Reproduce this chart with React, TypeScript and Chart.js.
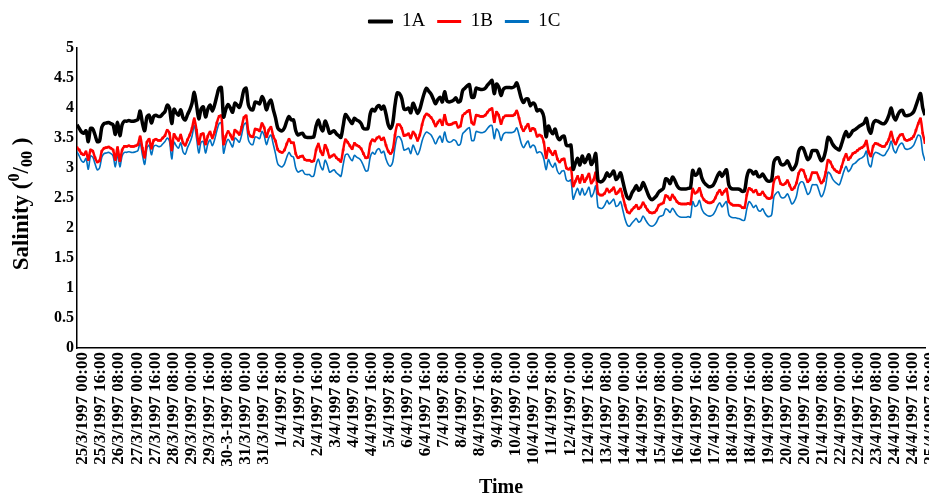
import React, { useEffect, useRef } from "react";
import { Chart, registerables } from "chart.js";

Chart.register(...registerables);

const FONT = '"Liberation Serif", "Times New Roman", serif';

const seriesNames = ["1A", "1B", "1C"];

// one tick label every 16 hours
const tickLabels = [
  "25/3/1997 00:00", "25/3/1997 16:00", "26/3/1997 08:00", "27/3/1997 00:00",
  "27/3/1997 16:00", "28/3/1997 08:00", "29/3/1997 00:00", "29/3/1997 16:00",
  "30-3-1997 08:00", "31/3/1997 00:00", "31/3/1997 16:00", "1/4/1997 8:00",
  "2/4/1997 0:00", "2/4/1997 16:00", "3/4/1997 8:00", "4/4/1997 0:00",
  "4/4/1997 16:00", "5/4/1997 8:00", "6/4/1997 0:00", "6/4/1997 16:00",
  "7/4/1997 8:00", "8/4/1997 0:00", "8/4/1997 16:00", "9/4/1997 8:00",
  "10/4/1997 0:00", "10/4/1997 16:00", "11/4/1997 8:00", "12/4/1997 0:00",
  "12/4/1997 16:00", "13/4/1997 08:00", "14/4/1997 00:00", "14/4/1997 16:00",
  "15/4/1997 08:00", "16/4/1997 00:00", "16/4/1997 16:00", "17/4/1997 08:00",
  "18/4/1997 00:00", "18/4/1997 16:00", "19/4/1997 08:00", "20/4/1997 00:00",
  "20/4/1997 16:00", "21/4/1997 08:00", "22/4/1997 00:00", "22/4/1997 16:00",
  "23/4/1997 08:00", "24/4/1997 00:00", "24/4/1997 16:00", "25/4/1997 08:00",
];
const HOURS_PER_TICK = 16;
const HOURS_PER_STEP = 2;

// salinity readings, one every 2 hours from 25/3/1997 00:00
const salinity1A = [
  3.72, 3.66, 3.60, 3.58, 3.62, 3.44, 3.66, 3.65,
  3.55, 3.44, 3.45, 3.68, 3.74, 3.75, 3.76, 3.74,
  3.72, 3.56, 3.76, 3.54, 3.72, 3.78, 3.78, 3.79,
  3.78, 3.78, 3.79, 3.81, 3.95, 3.75, 3.62, 3.85,
  3.88, 3.75, 3.86, 3.88, 3.86, 3.86, 3.90, 3.94,
  4.05, 4.00, 3.74, 3.98, 3.92, 3.88, 3.97, 3.84,
  3.80, 3.89, 3.97, 4.08, 4.26, 4.05, 3.82, 3.98,
  4.02, 3.85, 3.98, 4.05, 3.95, 4.05, 4.20, 4.33,
  4.34, 3.85, 3.98, 4.06, 4.00, 3.93, 4.08, 4.05,
  4.01, 4.13, 4.30, 4.33, 4.05, 3.98, 3.97, 4.10,
  4.09, 4.07, 4.19, 4.12, 3.97, 4.08, 4.13, 3.98,
  3.84, 3.67, 3.63, 3.62, 3.67, 3.78, 3.86, 3.80,
  3.80, 3.62, 3.55, 3.57, 3.58, 3.52, 3.51, 3.51,
  3.51, 3.52, 3.70, 3.80, 3.68, 3.62, 3.78, 3.70,
  3.58, 3.60, 3.62, 3.57, 3.54, 3.51, 3.70, 3.89,
  3.85, 3.79, 3.74, 3.83, 3.80, 3.78, 3.74, 3.66,
  3.65, 3.66, 3.90, 3.98, 3.95, 4.02, 4.04, 3.98,
  4.03, 3.90, 3.72, 3.66, 3.75, 4.05, 4.25, 4.24,
  4.16, 3.98, 3.98, 4.00, 3.92, 4.08, 4.00, 3.91,
  3.98, 4.12, 4.25, 4.33, 4.28, 4.23, 4.15, 4.07,
  4.14, 4.18, 4.10, 4.27, 4.12, 4.10, 4.11, 4.13,
  4.17, 4.10, 4.12, 4.29, 4.33, 4.37, 4.39, 4.18,
  4.18, 4.33, 4.32, 4.31, 4.31, 4.33, 4.38, 4.42,
  4.46, 4.24, 4.40, 4.35, 4.21, 4.31, 4.34, 4.34,
  4.34, 4.34, 4.36, 4.42, 4.30, 4.16, 4.09, 4.15,
  4.15, 4.04, 4.08, 4.06, 3.95, 3.97, 3.95, 3.85,
  3.52, 3.70, 3.62, 3.57, 3.65, 3.52, 3.47, 3.52,
  3.53, 3.38, 3.37, 3.38, 2.98, 3.08, 3.16, 3.05,
  3.20, 3.09, 3.15, 3.22, 3.06, 3.12, 3.24, 2.80,
  2.77, 2.78, 2.83, 2.92, 2.86, 2.90, 2.95, 2.81,
  2.85, 2.92, 2.78, 2.62, 2.51, 2.49, 2.58, 2.64,
  2.71, 2.63, 2.66, 2.76, 2.68, 2.58, 2.50, 2.47,
  2.50, 2.54, 2.60, 2.63, 2.66, 2.82, 2.80, 2.74,
  2.85, 2.80, 2.71, 2.66, 2.65, 2.65, 2.65, 2.66,
  2.67, 2.96, 2.88, 2.90, 2.98, 2.84, 2.76, 2.72,
  2.69, 2.69, 2.71, 2.78, 2.87, 2.93, 2.86, 2.92,
  2.97, 2.72, 2.66, 2.65, 2.65, 2.65, 2.64, 2.61,
  2.62, 2.85, 2.96, 2.95, 2.90, 2.94, 2.86, 2.86,
  2.90, 2.84, 2.79, 2.78, 2.80, 3.10, 3.16, 3.17,
  3.07, 3.05, 3.07, 3.12, 3.04, 2.97, 3.00, 3.08,
  3.28, 3.34, 3.33, 3.23, 3.14, 3.18, 3.29, 3.29,
  3.29, 3.20, 3.12, 3.16, 3.30, 3.51, 3.48, 3.40,
  3.35, 3.32, 3.30, 3.40, 3.52, 3.61, 3.52, 3.56,
  3.62, 3.64, 3.67, 3.70, 3.72, 3.75, 3.83, 3.65,
  3.58, 3.74, 3.79, 3.78, 3.76, 3.74, 3.74, 3.79,
  3.88, 4.00, 3.86, 3.80, 3.89, 3.95, 3.96, 3.88,
  3.87, 3.88, 3.90, 3.94, 4.04, 4.15, 4.24, 4.00,
  3.88,
];

const salinity1B = [
  3.34, 3.30, 3.24, 3.22, 3.27, 3.14, 3.30, 3.28,
  3.17, 3.10, 3.12, 3.28, 3.33, 3.34, 3.35, 3.33,
  3.30, 3.14, 3.34, 3.12, 3.30, 3.36, 3.36, 3.37,
  3.36, 3.36, 3.37, 3.39, 3.52, 3.33, 3.18, 3.43,
  3.48, 3.33, 3.46, 3.48, 3.46, 3.46, 3.50, 3.54,
  3.63, 3.58, 3.30, 3.56, 3.50, 3.46, 3.55, 3.42,
  3.38, 3.47, 3.55, 3.66, 3.82, 3.63, 3.40, 3.56,
  3.57, 3.40, 3.53, 3.60, 3.50, 3.60, 3.75, 3.86,
  3.87, 3.40, 3.53, 3.61, 3.55, 3.48, 3.63, 3.60,
  3.56, 3.68, 3.84, 3.87, 3.60, 3.53, 3.52, 3.65,
  3.64, 3.62, 3.74, 3.67, 3.52, 3.63, 3.68, 3.53,
  3.45, 3.31, 3.27, 3.26, 3.30, 3.40, 3.48, 3.42,
  3.42, 3.24, 3.17, 3.19, 3.20, 3.14, 3.13, 3.13,
  3.11, 3.12, 3.30, 3.40, 3.28, 3.22, 3.38, 3.30,
  3.18, 3.20, 3.22, 3.17, 3.14, 3.11, 3.30, 3.47,
  3.43, 3.37, 3.32, 3.41, 3.38, 3.36, 3.32, 3.24,
  3.17, 3.18, 3.40, 3.47, 3.45, 3.50, 3.52, 3.47,
  3.50, 3.38, 3.28, 3.24, 3.30, 3.55, 3.72, 3.72,
  3.66, 3.54, 3.55, 3.57, 3.50, 3.60, 3.55, 3.46,
  3.55, 3.72, 3.85, 3.90, 3.88, 3.84, 3.78, 3.70,
  3.76, 3.80, 3.72, 3.88, 3.74, 3.72, 3.73, 3.75,
  3.76, 3.68, 3.70, 3.87, 3.91, 3.94, 3.96, 3.76,
  3.73, 3.88, 3.87, 3.86, 3.86, 3.88, 3.93, 3.97,
  3.99, 3.77, 3.93, 3.88, 3.74, 3.84, 3.87, 3.87,
  3.87, 3.87, 3.89, 3.95, 3.83, 3.69, 3.62, 3.68,
  3.73, 3.62, 3.66, 3.64, 3.53, 3.55, 3.53, 3.43,
  3.17, 3.33, 3.27, 3.22, 3.28, 3.15, 3.10, 3.14,
  3.15, 3.00, 2.98, 3.00, 2.70, 2.78, 2.86, 2.76,
  2.88, 2.77, 2.83, 2.90, 2.75, 2.80, 2.92, 2.58,
  2.55, 2.55, 2.58, 2.65, 2.60, 2.63, 2.67, 2.57,
  2.60, 2.65, 2.53, 2.38, 2.27, 2.25, 2.30, 2.34,
  2.38, 2.32, 2.35, 2.42, 2.36, 2.30, 2.26, 2.25,
  2.26, 2.30, 2.38, 2.40, 2.42, 2.54, 2.52, 2.47,
  2.55, 2.50, 2.44, 2.41, 2.40, 2.40, 2.40, 2.41,
  2.40, 2.65, 2.58, 2.60, 2.66, 2.54, 2.47, 2.44,
  2.42, 2.42, 2.44, 2.50, 2.58, 2.63, 2.56, 2.61,
  2.65, 2.44, 2.40, 2.38, 2.38, 2.38, 2.37, 2.34,
  2.34, 2.55, 2.66, 2.64, 2.60, 2.63, 2.56, 2.56,
  2.60, 2.54, 2.50, 2.49, 2.51, 2.78, 2.84, 2.85,
  2.74, 2.72, 2.74, 2.79, 2.71, 2.64, 2.67, 2.75,
  2.91, 2.97, 2.96, 2.86, 2.77, 2.81, 2.92, 2.92,
  2.92, 2.83, 2.75, 2.79, 2.93, 3.13, 3.10, 3.02,
  2.97, 2.94, 2.92, 3.02, 3.14, 3.23, 3.14, 3.18,
  3.24, 3.26, 3.29, 3.32, 3.34, 3.37, 3.45, 3.27,
  3.20, 3.36, 3.41, 3.40, 3.38, 3.36, 3.36, 3.41,
  3.48, 3.60, 3.46, 3.40, 3.49, 3.55, 3.56, 3.48,
  3.46, 3.47, 3.49, 3.53, 3.63, 3.74, 3.82, 3.58,
  3.42,
];

const salinity1C = [
  3.27, 3.20, 3.12, 3.10, 3.16, 2.98, 3.20, 3.18,
  3.07, 2.97, 3.00, 3.18, 3.24, 3.25, 3.26, 3.24,
  3.20, 3.02, 3.24, 3.02, 3.20, 3.26, 3.26, 3.27,
  3.26, 3.26, 3.27, 3.29, 3.42, 3.22, 3.06, 3.33,
  3.38, 3.22, 3.36, 3.38, 3.36, 3.36, 3.40, 3.44,
  3.50, 3.45, 3.15, 3.43, 3.37, 3.33, 3.42, 3.27,
  3.23, 3.34, 3.42, 3.53, 3.71, 3.50, 3.25, 3.43,
  3.44, 3.25, 3.40, 3.47, 3.37, 3.47, 3.62, 3.74,
  3.75, 3.25, 3.40, 3.48, 3.42, 3.35, 3.50, 3.47,
  3.43, 3.55, 3.72, 3.75, 3.47, 3.40, 3.39, 3.52,
  3.51, 3.49, 3.61, 3.54, 3.39, 3.50, 3.55, 3.40,
  3.24, 3.07, 3.03, 3.02, 3.07, 3.18, 3.26, 3.20,
  3.18, 3.00, 2.93, 2.95, 2.96, 2.90, 2.89, 2.89,
  2.86, 2.87, 3.05, 3.15, 3.03, 2.97, 3.13, 3.05,
  2.93, 2.95, 2.97, 2.92, 2.89, 2.86, 3.05, 3.22,
  3.23, 3.17, 3.12, 3.21, 3.18, 3.16, 3.12, 3.04,
  2.95, 2.96, 3.18, 3.26, 3.23, 3.30, 3.32, 3.25,
  3.28, 3.15, 3.06, 3.03, 3.10, 3.35, 3.52, 3.52,
  3.45, 3.30, 3.31, 3.33, 3.24, 3.38, 3.30, 3.22,
  3.30, 3.45, 3.55, 3.60, 3.58, 3.55, 3.48, 3.40,
  3.48, 3.53, 3.43, 3.60, 3.46, 3.43, 3.44, 3.47,
  3.45, 3.38, 3.40, 3.57, 3.61, 3.65, 3.67, 3.46,
  3.46, 3.61, 3.60, 3.59, 3.59, 3.61, 3.66, 3.70,
  3.71, 3.49, 3.65, 3.60, 3.46, 3.56, 3.59, 3.59,
  3.59, 3.59, 3.61, 3.67, 3.55, 3.41, 3.34, 3.40,
  3.45, 3.34, 3.38, 3.36, 3.25, 3.27, 3.25, 3.15,
  2.97, 3.14, 3.06, 3.01, 3.08, 2.95, 2.90, 2.95,
  2.95, 2.80, 2.78, 2.80, 2.48, 2.58, 2.66, 2.55,
  2.66, 2.55, 2.60, 2.68, 2.52, 2.58, 2.70, 2.35,
  2.33, 2.33, 2.38, 2.46, 2.40, 2.44, 2.48, 2.36,
  2.38, 2.44, 2.30, 2.15, 2.05, 2.03, 2.08, 2.12,
  2.16, 2.10, 2.12, 2.20, 2.14, 2.08, 2.04, 2.03,
  2.05, 2.10, 2.18, 2.20, 2.22, 2.32, 2.30, 2.26,
  2.33, 2.28, 2.22, 2.19, 2.18, 2.18, 2.18, 2.19,
  2.18, 2.44, 2.36, 2.38, 2.46, 2.32, 2.25, 2.22,
  2.20, 2.20, 2.22, 2.28, 2.37, 2.42, 2.35, 2.40,
  2.44, 2.22, 2.18, 2.17, 2.17, 2.16, 2.15, 2.13,
  2.13, 2.32, 2.44, 2.40, 2.34, 2.38, 2.30, 2.28,
  2.32, 2.25, 2.20, 2.19, 2.22, 2.52, 2.58, 2.60,
  2.52, 2.50, 2.52, 2.57, 2.49, 2.40, 2.44, 2.53,
  2.71, 2.77, 2.76, 2.66, 2.56, 2.60, 2.72, 2.72,
  2.72, 2.62, 2.52, 2.58, 2.72, 2.93, 2.90, 2.82,
  2.77, 2.74, 2.72, 2.82, 2.94, 3.03, 2.94, 2.98,
  3.06, 3.08, 3.12, 3.15, 3.17, 3.20, 3.28, 3.07,
  3.02, 3.20, 3.26, 3.25, 3.23, 3.21, 3.21, 3.27,
  3.33, 3.45, 3.31, 3.25, 3.34, 3.40, 3.41, 3.33,
  3.31, 3.32, 3.34, 3.38, 3.47, 3.55, 3.52, 3.25,
  3.12,
];

const seriesColors = ["#000000", "#FF0000", "#0070C0"];

const toPoints = (values: number[]) =>
  values.map((v, i) => ({ x: i * HOURS_PER_STEP, y: v }));

const yTitlePlugin = {
  id: "yTitle",
  afterDraw(chart: any) {
    const ctx = chart.ctx as CanvasRenderingContext2D;
    const parts: { text: string; size: number; dy: number; w?: number }[] = [
      { text: "Salinity (", size: 23, dy: 0 },
      { text: "0", size: 16, dy: -9 },
      { text: "/", size: 23, dy: 0 },
      { text: "00", size: 16, dy: 4 },
      { text: " )", size: 23, dy: 0 },
    ];
    ctx.save();
    let total = 0;
    for (const p of parts) {
      ctx.font = `bold ${p.size}px ${FONT}`;
      p.w = ctx.measureText(p.text).width;
      total += p.w;
    }
    const area = chart.chartArea;
    const cy = (area.top + area.bottom) / 2 + 6;
    ctx.translate(28, cy);
    ctx.rotate(-Math.PI / 2);
    ctx.fillStyle = "#000";
    ctx.textBaseline = "alphabetic";
    let x = -total / 2;
    for (const p of parts) {
      ctx.font = `bold ${p.size}px ${FONT}`;
      ctx.fillText(p.text, x, p.dy);
      x += p.w || 0;
    }
    ctx.restore();
  },
};

// adds space between the legend and the plot
const legendGapPlugin = {
  id: "legendGap",
  beforeInit(chart: any) {
    const legend = chart.legend;
    if (!legend) return;
    const fit = legend.fit;
    legend.fit = function () {
      fit.call(this);
      this.height += 7;
    };
  },
};

export default function App() {
  const ref = useRef<HTMLCanvasElement | null>(null);

  useEffect(() => {
    if (!ref.current) return;
    const lastHour = (tickLabels.length - 1) * HOURS_PER_TICK;
    const chart = new Chart(ref.current, {
      type: "line",
      data: {
        datasets: [
          {
            label: seriesNames[0],
            data: toPoints(salinity1A),
            borderColor: seriesColors[0],
            backgroundColor: seriesColors[0],
            borderWidth: 3.5,
            pointRadius: 0,
            tension: 0.3,
          },
          {
            label: seriesNames[1],
            data: toPoints(salinity1B),
            borderColor: seriesColors[1],
            backgroundColor: seriesColors[1],
            borderWidth: 2.5,
            pointRadius: 1.8,
            pointStyle: "rect",
            pointBorderWidth: 0,
            pointBackgroundColor: seriesColors[1],
            tension: 0.3,
          },
          {
            label: seriesNames[2],
            data: toPoints(salinity1C),
            borderColor: seriesColors[2],
            backgroundColor: seriesColors[2],
            borderWidth: 1.6,
            pointRadius: 0,
            tension: 0.3,
          },
        ],
      },
      options: {
        responsive: false,
        animation: false,
        devicePixelRatio: 1,
        layout: { padding: { top: 0, left: 0, right: 0, bottom: 0 } },
        plugins: {
          tooltip: { enabled: false },
          legend: {
            position: "top",
            labels: {
              font: { family: FONT, size: 19 },
              color: "#000",
              boxWidth: 24,
              boxHeight: 3,
              padding: 12,
              generateLabels: (c: any) =>
                c.data.datasets.map((ds: any, i: number) => ({
                  text: ds.label,
                  fillStyle: ds.borderColor,
                  strokeStyle: ds.borderColor,
                  lineWidth: i === 0 ? 1 : 0,
                  hidden: false,
                  datasetIndex: i,
                })),
            },
          },
        },
        scales: {
          x: {
            type: "linear",
            min: 0,
            max: lastHour,
            ticks: {
              stepSize: HOURS_PER_TICK,
              autoSkip: false,
              maxRotation: 90,
              minRotation: 90,
              padding: 4,
              labelOffset: 6,
              color: "#000",
              font: { family: FONT, size: 17, weight: "bold" },
              callback: (v: any) => tickLabels[Math.round(Number(v) / HOURS_PER_TICK)] ?? "",
            },
            grid: { display: false, drawTicks: false },
            border: { display: true, color: "#000", width: 1.5 },
            title: {
              display: true,
              text: "Time",
              color: "#000",
              font: { family: FONT, size: 20, weight: "bold" },
              padding: { top: 0, bottom: -6 },
            },
            afterFit: (s: any) => {
              s.height = 146;
              s.paddingLeft = 0;
              s.paddingRight = 0;
            },
          },
          y: {
            min: 0,
            max: 5,
            ticks: {
              stepSize: 0.5,
              padding: 3,
              color: "#000",
              font: { family: FONT, size: 16, weight: "bold" },
              callback: (v: any) => String(Number(v)),
            },
            grid: { display: false, drawTicks: false },
            border: { display: true, color: "#000", width: 1.5 },
            afterFit: (s: any) => {
              s.width = 77;
              s.paddingTop = 0;
              s.paddingBottom = 0;
            },
          },
        },
      },
      plugins: [yTitlePlugin, legendGapPlugin],
    } as any);
    return () => chart.destroy();
  }, []);

  return (
    <div style={{ position: "fixed", left: 0, top: 0, width: 929, height: 494, background: "#fff" }}>
      <canvas ref={ref} width={929} height={494} style={{ display: "block" }} />
    </div>
  );
}
